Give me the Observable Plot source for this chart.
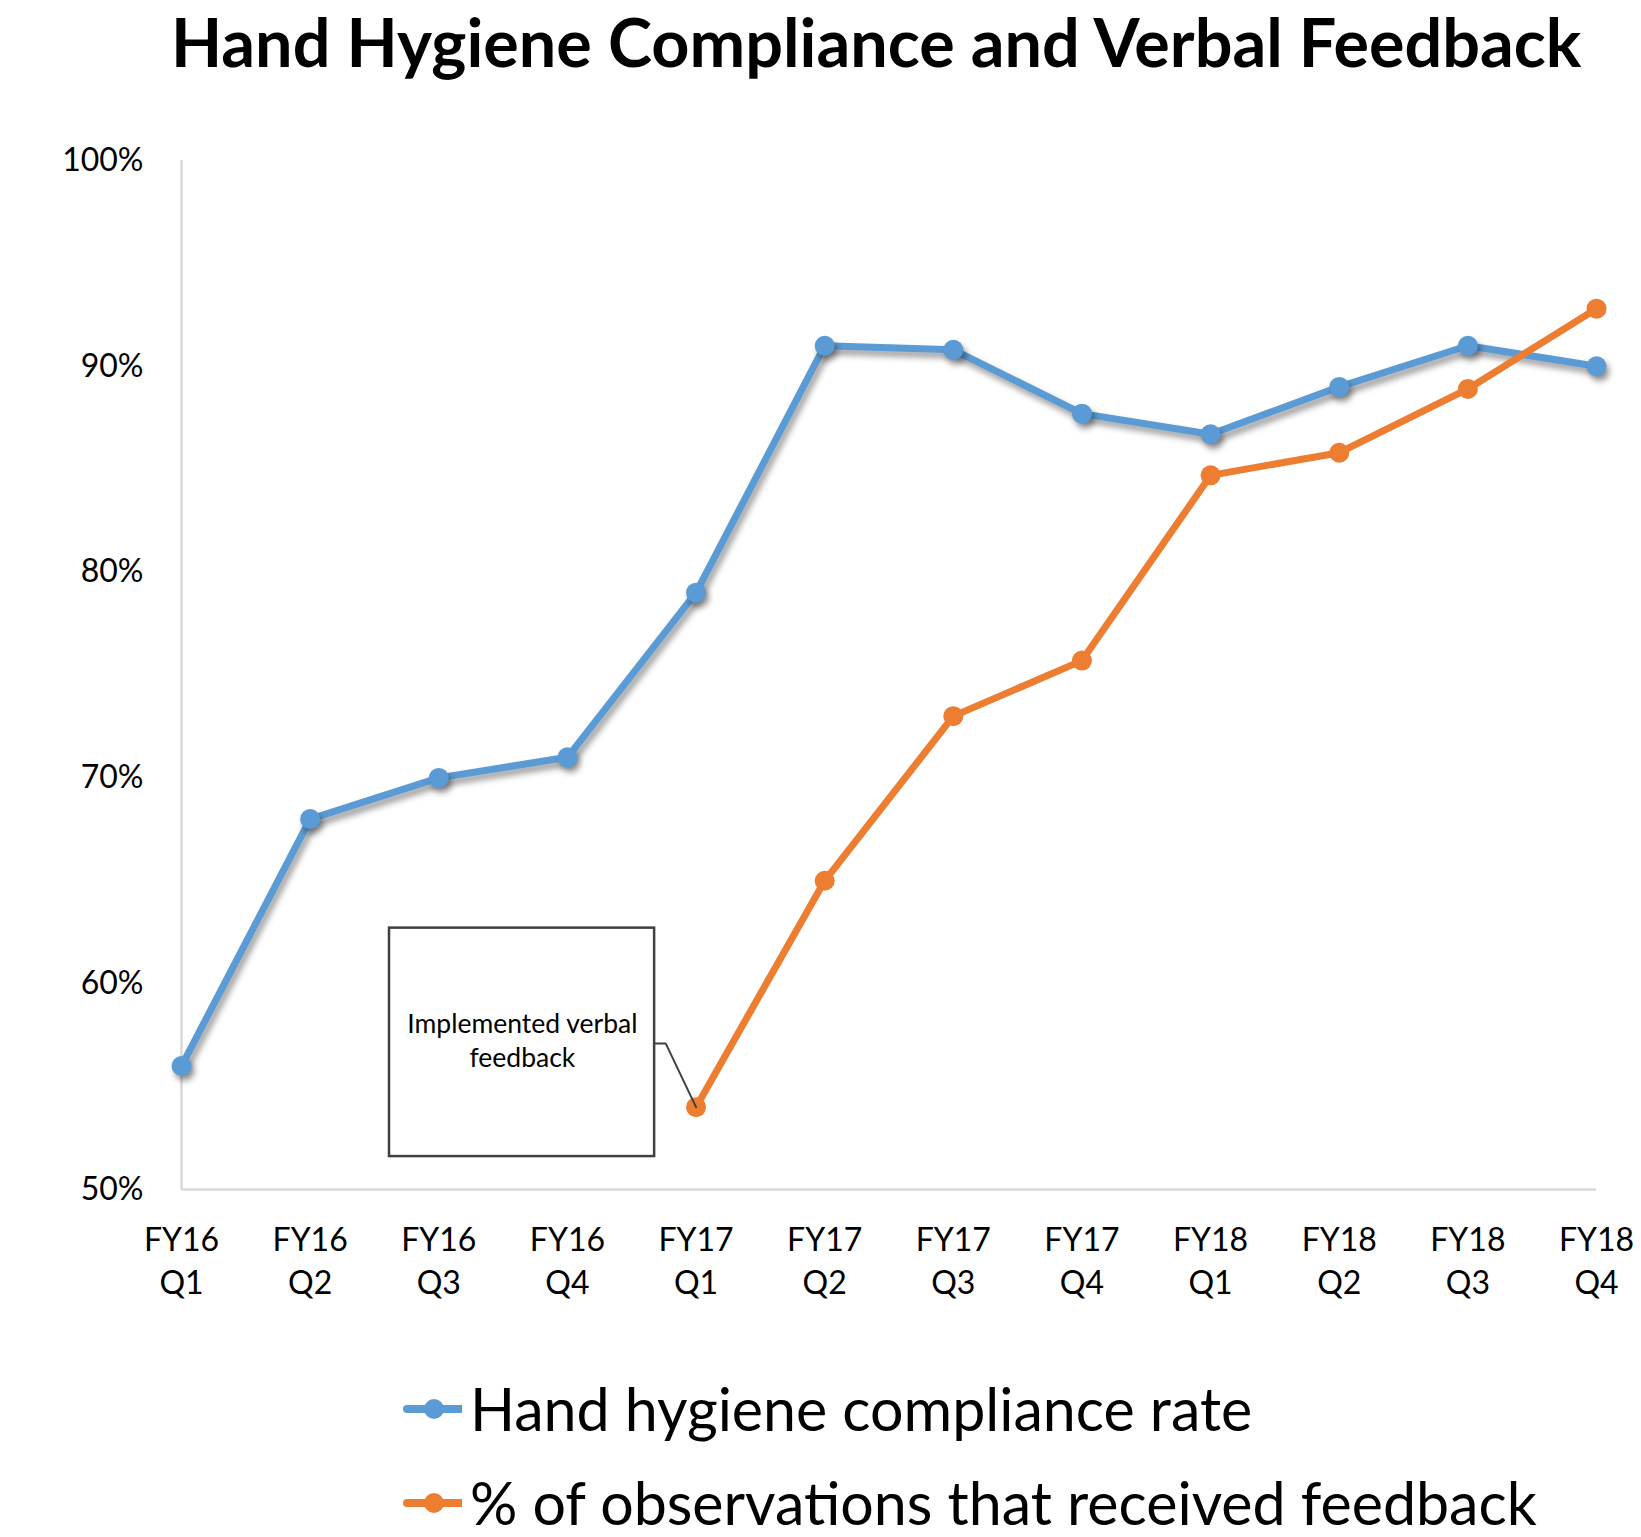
<!DOCTYPE html>
<html>
<head>
<meta charset="utf-8">
<script src="https://cdn.jsdelivr.net/npm/d3@7"></script>
<script src="https://cdn.jsdelivr.net/npm/@observablehq/plot@0.6"></script>
<style>
  html, body { margin: 0; padding: 0; background: #fff; }
  #page { position: relative; width: 1641px; height: 1537px; background: #fff; font-family: Lato, "Open Sans", sans-serif; color: #000; overflow: hidden; }
  #title { position: absolute; left: 171px; top: 8px; font-weight: 700; white-space: nowrap; line-height: 1; }
  #chart { position: absolute; left: 0; top: 100px; }
  .leg { position: absolute; left: 402px; display: flex; align-items: center; white-space: nowrap; }
  .leg svg { margin-right: 8px; flex: none; }
</style>
</head>
<body>
<div id="page">
  <div id="title"></div>
  <div id="chart"></div>
  <div id="legend"></div>
</div>
<script>
// ---- data ----
const titleText = "Hand Hygiene Compliance and Verbal Feedback";
const quarters = ["FY16\nQ1","FY16\nQ2","FY16\nQ3","FY16\nQ4","FY17\nQ1","FY17\nQ2","FY17\nQ3","FY17\nQ4","FY18\nQ1","FY18\nQ2","FY18\nQ3","FY18\nQ4"];
const compliance = [56, 68, 70, 71, 79, 91, 90.8, 87.7, 86.7, 89, 91, 90];
const feedback = [null, null, null, null, 54, 65, 73, 75.7, 84.7, 85.8, 88.9, 92.8];
const yTicks = [50, 60, 70, 80, 90, 100];
const seriesNames = ["Hand hygiene compliance rate", "% of observations that received feedback"];
const seriesColors = ["#5B9BD5", "#ED7D31"];
const annotationText = "Implemented verbal\nfeedback";
// annotation box in data units (x = quarter index, y = percent)
const annotationBox = [{x1: 1.617, x2: 3.678, y1: 51.6, y2: 62.7}];
const annotationLabel = [{x: 2.65, y: 57.3}];
const leader = [{x: 3.678, y: 57.1}, {x: 3.764, y: 57.1}, {x: 4, y: 54}];

// ---- helpers ----
function fitSize(text, weight, family, target) {
  const c = document.createElement("canvas").getContext("2d");
  c.font = `${weight} 100px ${family}`;
  return 100 * target / c.measureText(text).width;
}

const rows = quarters.map((q, i) => ({i, q, compliance: compliance[i], feedback: feedback[i]}));
const fbRows = rows.filter(d => d.feedback != null);

function draw() {
  const title = document.getElementById("title");
  title.textContent = titleText;
  title.style.fontSize = fitSize(titleText, 700, "Lato", 1413) + "px";

  const chart = Plot.plot({
    width: 1641,
    height: 1250,
    marginLeft: 181,
    marginRight: 45,
    marginTop: 60,
    marginBottom: 161,
    x: {domain: [0, quarters.length - 1], label: null},
    y: {domain: [50, 100], label: null},
    style: {fontFamily: "Lato, sans-serif", color: "#000", background: "transparent"},
    marks: [
      Plot.ruleX([0], {y1: 50, y2: 100, stroke: "#d9d9d9", strokeWidth: 2.5}),
      Plot.ruleY([50], {x1: 0, x2: quarters.length - 1, stroke: "#d9d9d9", strokeWidth: 2.5}),
      Plot.axisY({ticks: yTicks, tickFormat: d => d + "%", tickSize: 0, tickPadding: 38, fontSize: 32, fill: "#000"}),
      Plot.axisX({ticks: d3.range(quarters.length), tickFormat: i => quarters[i], tickSize: 0, tickPadding: 31, fontSize: 32, lineHeight: 1.35, fill: "#000"}),
      Plot.line(rows, {x: "i", y: "compliance", stroke: seriesColors[0], strokeWidth: 7, ariaDescription: "blue-shadow"}),
      Plot.dot(rows, {x: "i", y: "compliance", r: 10, fill: seriesColors[0], ariaDescription: "blue-shadow"}),
      Plot.rect(annotationBox, {x1: "x1", x2: "x2", y1: "y1", y2: "y2", fill: "#fff", stroke: "#404040", strokeWidth: 2.5}),
      Plot.text(annotationLabel, {x: "x", y: "y", text: () => annotationText, fontSize: 26.5, lineHeight: 1.27, fill: "#000"}),
      Plot.line(fbRows, {x: "i", y: "feedback", stroke: seriesColors[1], strokeWidth: 7}),
      Plot.dot(fbRows, {x: "i", y: "feedback", r: 10, fill: seriesColors[1]}),
      Plot.line(leader, {x: "x", y: "y", stroke: "#404040", strokeWidth: 2})
    ]
  });
  d3.select(chart).selectAll('g[aria-description="blue-shadow"]')
    .style("filter", "drop-shadow(3px 5px 3px rgba(0,0,0,0.4))");
  document.getElementById("chart").appendChild(chart);

  const legend = document.getElementById("legend");
  const legSize = fitSize(seriesNames[1], 400, "Lato", 1068);
  const centers = [1409, 1503];
  const rowH = 54;
  seriesNames.forEach((name, k) => {
    const row = document.createElement("div");
    row.className = "leg";
    row.style.fontSize = legSize + "px";
    row.style.lineHeight = rowH + "px";
    row.style.top = (centers[k] - rowH / 2) + "px";
    row.style.height = rowH + "px";
    row.innerHTML = `<svg width="60" height="24"><line x1="5" y1="12" x2="60" y2="12" stroke="${seriesColors[k]}" stroke-width="8" stroke-linecap="round"/><circle cx="32" cy="12" r="10" fill="${seriesColors[k]}"/></svg><span>${name}</span>`;
    legend.appendChild(row);
  });
}
document.fonts && document.fonts.load("700 20px Lato").then(() => document.fonts.load("400 20px Lato")).then(draw, draw);
</script>
</body>
</html>
